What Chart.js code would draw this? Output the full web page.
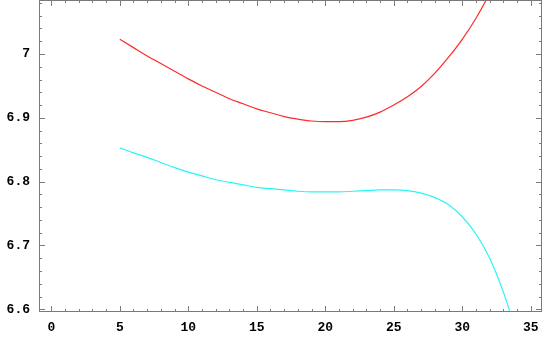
<!DOCTYPE html>
<html>
<head>
<meta charset="utf-8">
<script src="https://cdn.jsdelivr.net/npm/chart.js@4/dist/chart.umd.min.js"></script>
<style>
  body { margin: 0; background: #fff; }
  canvas { display: block; }
</style>
</head>
<body>
<canvas id="plot" width="545" height="337"></canvas>
<script>
// values
const redX = [5, 6, 7, 8, 9, 10, 11, 12, 13, 14, 15, 16, 17, 18, 19, 20, 21, 22, 23, 24, 25, 26, 27, 28, 29, 30, 31, 32, 33];
const redY = [7.023, 7.010, 6.997, 6.985, 6.973, 6.961, 6.950, 6.940, 6.930, 6.922, 6.914, 6.908, 6.902, 6.898, 6.895,
  6.894, 6.894, 6.896, 6.901, 6.909, 6.920, 6.933, 6.949, 6.970, 6.995, 7.023, 7.056, 7.095, 7.140];

const cyanX = [5, 6, 7, 8, 9, 10, 11, 12, 13, 14, 15, 16, 17, 18, 19, 20, 21, 22, 23, 24, 25, 26, 27, 28, 29, 30, 31, 32, 33, 34];
const cyanY = [6.853, 6.845, 6.838, 6.830, 6.822, 6.815, 6.809, 6.803, 6.799, 6.795, 6.791, 6.789, 6.787, 6.785, 6.784,
  6.784, 6.784, 6.785, 6.786, 6.787, 6.787, 6.786, 6.782, 6.775, 6.764, 6.745, 6.718, 6.680, 6.627, 6.560];

const xTicks = [0, 5, 10, 15, 20, 25, 30, 35];
const yTicks = [6.6, 6.7, 6.8, 6.9, 7];

const toPoints = (xs, ys) => xs.map((x, i) => ({ x: x, y: ys[i] }));

// Mathematica-like frame with inward ticks on all four sides
const frameTicks = {
  id: 'frameTicks',
  afterDraw(chart) {
    const { ctx, chartArea: a, scales: { x, y } } = chart;
    ctx.save();
    ctx.strokeStyle = '#7a7a7a';
    ctx.lineWidth = 1;
    ctx.beginPath();
    for (let v = Math.ceil(x.min); v <= Math.floor(x.max); v++) {
      const px = Math.round(x.getPixelForValue(v)) + 0.5;
      const len = v % 5 === 0 ? 6 : 3;
      ctx.moveTo(px, a.bottom); ctx.lineTo(px, a.bottom - len);
      ctx.moveTo(px, a.top); ctx.lineTo(px, a.top + len);
    }
    for (let i = Math.ceil(y.min * 50); i <= Math.floor(y.max * 50); i++) {
      const py = Math.round(y.getPixelForValue(i / 50)) + 0.5;
      const len = i % 5 === 0 ? 6 : 3;
      ctx.moveTo(a.left, py); ctx.lineTo(a.left + len, py);
      ctx.moveTo(a.right, py); ctx.lineTo(a.right - len, py);
    }
    ctx.stroke();
    ctx.strokeRect(a.left + 0.5, a.top + 0.5, a.width - 1, a.height - 1);
    ctx.restore();
  }
};

const tickFont = { family: '"Liberation Mono", "DejaVu Sans Mono", monospace', size: 13, weight: 'bold' };

new Chart(document.getElementById('plot'), {
  type: 'scatter',
  data: {
    datasets: [
      {
        data: toPoints(redX, redY),
        showLine: true,
        borderColor: '#ff2a2a',
        borderWidth: 1.2,
        pointRadius: 0,
        cubicInterpolationMode: 'monotone'
      },
      {
        data: toPoints(cyanX, cyanY),
        showLine: true,
        borderColor: '#2af5f5',
        borderWidth: 1.2,
        pointRadius: 0,
        cubicInterpolationMode: 'monotone'
      }
    ]
  },
  options: {
    responsive: false,
    animation: false,
    layout: { padding: { top: 0, right: 3, bottom: 0, left: 0 } },
    plugins: { legend: { display: false }, tooltip: { enabled: false } },
    scales: {
      x: {
        type: 'linear',
        min: -0.898,
        max: 35.82,
        grid: { display: false, drawTicks: false },
        border: { display: false },
        afterBuildTicks: s => { s.ticks = xTicks.map(v => ({ value: v })); },
        afterFit: s => { s.height = 25; s.paddingLeft = 0; s.paddingRight = 0; },
        ticks: { font: tickFont, color: '#000', padding: 8, maxRotation: 0, autoSkip: false }
      },
      y: {
        min: 6.5958,
        max: 7.0846,
        grid: { display: false, drawTicks: false },
        border: { display: false },
        afterBuildTicks: s => { s.ticks = yTicks.map(v => ({ value: v })); },
        afterFit: s => { s.width = 39; s.paddingTop = 0; s.paddingBottom = 0; },
        ticks: {
          font: tickFont,
          color: '#000',
          padding: 9,
          autoSkip: false,
          callback: v => String(+v.toFixed(2))
        }
      }
    }
  },
  plugins: [frameTicks]
});
</script>
</body>
</html>
